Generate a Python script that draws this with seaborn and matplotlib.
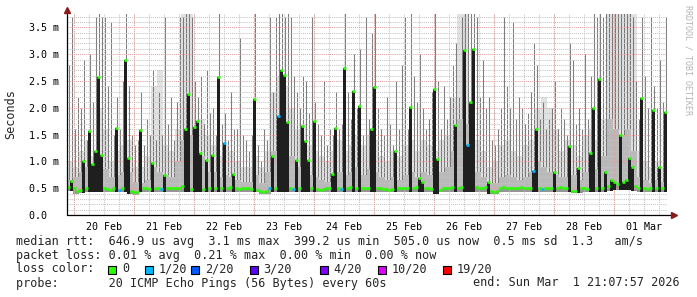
import numpy as np
import pandas as pd
import matplotlib
matplotlib.use("Agg")
import matplotlib.pyplot as plt
import matplotlib.dates as mdates
from matplotlib.ticker import MultipleLocator, FixedLocator, FixedFormatter
from matplotlib.patches import Rectangle
import seaborn as sns

# ---------------- data (milliseconds) ----------------
start_time = "2026-02-19 21:07:57"
step_minutes = 72

median_ms = [
    0.52, 0.63, 0.50, 0.45, 0.47, 1.00, 0.50, 1.57, 0.95, 1.20, 2.58, 1.12, 0.50, 0.49, 0.47, 0.50, 1.62, 0.47, 0.50, 2.90,
    1.07, 0.44, 0.42, 0.43, 1.58, 0.50, 0.50, 0.49, 0.97, 0.50, 0.50, 0.48, 0.75, 0.50, 0.50, 0.50, 0.50, 0.50, 0.55, 1.60,
    2.25, 0.48, 1.65, 1.75, 1.16, 0.48, 1.03, 0.50, 1.12, 0.50, 2.58, 0.50, 1.35, 0.50, 0.52, 0.76, 0.50, 0.48, 0.50, 0.50,
    0.50, 0.48, 2.17, 0.47, 0.44, 0.43, 0.45, 0.50, 1.10, 0.50, 1.84, 2.70, 2.62, 1.73, 0.50, 0.48, 1.03, 0.50, 1.66, 1.38,
    1.02, 0.50, 1.76, 0.48, 0.47, 0.49, 0.50, 0.50, 0.77, 1.63, 0.50, 0.48, 2.74, 0.50, 0.52, 2.32, 0.50, 2.04, 0.50, 0.50,
    0.50, 1.60, 2.38, 0.50, 0.50, 0.49, 0.48, 0.47, 0.48, 1.20, 0.50, 0.51, 0.50, 0.50, 2.01, 0.50, 0.52, 0.69, 0.62, 0.50,
    0.50, 0.48, 2.36, 1.05, 0.47, 0.50, 0.50, 0.50, 0.52, 1.68, 0.50, 0.52, 3.07, 1.30, 2.10, 3.10, 0.52, 0.50, 0.50, 0.52,
    0.62, 0.44, 0.42, 0.44, 0.50, 0.52, 0.50, 0.50, 0.51, 0.50, 0.50, 0.52, 0.50, 0.50, 0.50, 0.83, 1.60, 0.50, 0.49, 0.50,
    0.50, 0.50, 0.80, 0.50, 0.52, 0.50, 0.50, 1.29, 0.45, 0.44, 0.88, 0.50, 0.50, 0.48, 1.16, 1.99, 0.50, 2.54, 0.50, 0.80,
    0.55, 0.66, 0.62, 0.58, 1.50, 0.62, 0.65, 1.06, 0.90, 0.55, 0.50, 2.19, 0.50, 0.49, 0.50, 1.95, 0.50, 0.90, 0.50, 1.92,
]

peak_ms = [
    2.8, 3.7, 1.6, 2.2, 2.0, 2.9, 1.4, 3.0, 2.1, 3.7, 3.8, 3.7, 3.7, 2.4, 3.6, 1.5, 2.2, 1.6, 2.5, 3.8,
    2.4, 1.5, 1.3, 1.4, 2.3, 1.3, 1.8, 1.5, 2.7, 1.4, 2.3, 1.5, 3.7, 1.7, 2.2, 1.4, 2.1, 3.7, 3.7, 3.8,
    3.8, 3.7, 2.5, 2.2, 2.6, 1.7, 2.7, 1.9, 2.0, 1.5, 3.8, 1.7, 1.9, 1.4, 2.3, 1.6, 1.6, 3.3, 1.5, 1.4,
    1.2, 1.5, 3.8, 1.3, 1.0, 1.6, 1.4, 3.7, 2.3, 3.7, 3.8, 3.8, 3.7, 3.8, 3.7, 2.6, 2.3, 2.0, 2.6, 2.5,
    1.9, 3.7, 2.1, 1.7, 1.5, 2.5, 1.3, 1.6, 1.5, 2.3, 1.6, 1.7, 3.8, 2.3, 1.8, 3.0, 2.0, 3.1, 1.5, 3.7,
    1.8, 3.4, 3.8, 2.0, 1.6, 1.5, 2.2, 1.7, 1.3, 2.5, 1.6, 2.8, 3.7, 1.6, 3.8, 2.6, 2.1, 3.0, 2.0, 1.6,
    1.8, 2.3, 3.8, 2.5, 1.6, 2.4, 1.8, 2.2, 2.8, 3.2, 2.2, 3.7, 3.8, 3.8, 3.8, 3.8, 3.7, 2.2, 2.9, 2.0,
    2.2, 1.4, 1.3, 1.6, 2.0, 3.7, 2.4, 2.0, 3.6, 1.8, 2.2, 2.0, 1.7, 1.9, 2.3, 3.2, 2.8, 1.8, 2.1, 1.6,
    1.8, 2.0, 2.5, 1.6, 2.0, 1.8, 1.5, 3.2, 2.9, 1.7, 2.0, 1.6, 3.0, 1.8, 2.6, 3.8, 3.7, 3.8, 3.7, 3.8,
    3.8, 3.8, 3.8, 3.8, 3.8, 3.8, 3.8, 3.8, 3.7, 2.5, 1.8, 3.7, 2.6, 2.0, 3.7, 2.4, 2.0, 2.9, 2.1, 3.7,
]

# smoke envelope, one value per two median steps
smoke_lo_ms = [
    0.44, 0.40, 0.41, 0.43, 0.43, 0.43, 0.43, 0.42, 0.43, 0.43,
    0.39, 0.38, 0.42, 0.43, 0.43, 0.43, 0.43, 0.43, 0.43, 0.43,
    0.43, 0.43, 0.43, 0.43, 0.43, 0.43, 0.42, 0.43, 0.43, 0.43,
    0.43, 0.42, 0.39, 0.40, 0.42, 0.43, 0.43, 0.42, 0.43, 0.43,
    0.43, 0.43, 0.42, 0.43, 0.43, 0.43, 0.42, 0.43, 0.43, 0.43,
    0.43, 0.43, 0.43, 0.42, 0.43, 0.43, 0.43, 0.43, 0.43, 0.43,
    0.42, 0.40, 0.43, 0.43, 0.43, 0.43, 0.43, 0.43, 0.43, 0.43,
    0.40, 0.39, 0.42, 0.43, 0.43, 0.43, 0.43, 0.43, 0.43, 0.43,
    0.43, 0.43, 0.43, 0.43, 0.41, 0.41, 0.43, 0.42, 0.43, 0.43,
    0.44, 0.46, 0.47, 0.46, 0.44, 0.43, 0.43, 0.43, 0.43, 0.43,
]
smoke_mid_ms = [
    0.65, 0.70, 0.80, 0.90, 0.75, 1.00, 0.85, 0.70, 0.75, 0.80,
    0.80, 0.62, 0.60, 0.65, 0.90, 0.80, 0.75, 0.70, 1.00, 1.40,
    1.50, 1.00, 1.10, 0.80, 0.80, 0.70, 0.75, 0.70, 0.65, 0.62,
    0.62, 0.75, 0.60, 0.80, 1.20, 1.60, 1.40, 1.10, 0.90, 1.00,
    0.75, 0.70, 0.65, 0.62, 0.70, 0.80, 0.75, 0.80, 0.90, 0.75,
    0.85, 0.80, 0.70, 0.65, 0.70, 0.65, 0.75, 0.80, 0.70, 0.80,
    0.75, 0.70, 0.80, 0.90, 1.20, 1.80, 1.70, 1.00, 0.80, 0.70,
    0.60, 0.60, 0.70, 0.75, 0.70, 0.65, 0.70, 0.80, 1.00, 0.90,
    0.80, 0.75, 0.70, 0.70, 0.75, 0.65, 0.80, 0.90, 0.85, 1.10,
    1.80, 1.60, 1.50, 1.60, 1.20, 0.70, 0.65, 0.60, 0.65, 0.62,
]
smoke_hi_ms = [
    1.00, 0.90, 1.20, 1.40, 1.10, 2.00, 1.60, 1.00, 1.20, 1.30,
    1.40, 0.90, 0.90, 1.10, 2.40, 2.70, 1.30, 1.20, 1.60, 3.75,
    3.75, 1.60, 1.80, 1.50, 1.30, 1.10, 1.30, 1.20, 1.00, 0.90,
    0.90, 1.10, 0.90, 1.20, 2.30, 2.60, 2.40, 2.00, 1.60, 1.70,
    1.30, 1.20, 1.10, 1.00, 1.20, 1.40, 1.20, 1.30, 1.50, 1.30,
    1.50, 1.40, 1.10, 1.00, 1.20, 1.10, 1.30, 1.40, 1.20, 1.40,
    1.30, 1.20, 1.40, 1.50, 2.20, 3.75, 3.75, 2.00, 1.40, 1.20,
    0.90, 1.00, 1.30, 1.40, 1.20, 1.10, 1.30, 1.40, 2.00, 2.20,
    2.00, 1.60, 1.20, 1.40, 1.30, 1.10, 1.50, 1.60, 1.40, 1.80,
    3.75, 3.75, 3.75, 3.75, 3.75, 1.20, 1.00, 0.90, 1.00, 0.90,
]

# steps with packet loss (index into median_ms) and lost pings out of 20
loss_steps = [17, 31, 52, 67, 70, 75, 91, 133, 155, 158]
loss_counts = [1, 1, 1, 1, 1, 1, 1, 1, 1, 1]

legend_labels = ["0", "1/20", "2/20", "3/20", "4/20", "10/20", "19/20"]
legend_counts = [0, 1, 2, 3, 4, 10, 19]
legend_colors = ["#26ff00", "#00b8ff", "#0059ff", "#5e00ff", "#7e00ff", "#dd00ff", "#ff0000"]

y_ticks = [0.0, 0.5, 1.0, 1.5, 2.0, 2.5, 3.0, 3.5]
y_tick_labels = ["0.0  ", "0.5 m", "1.0 m", "1.5 m", "2.0 m", "2.5 m", "3.0 m", "3.5 m"]

stats_lines = [
    "median rtt:  646.9 us avg  3.1 ms max  399.2 us min  505.0 us now  0.5 ms sd  1.3   am/s",
    "packet loss: 0.01 % avg  0.21 % max  0.00 % min  0.00 % now",
]
probe_text = "probe:       20 ICMP Echo Pings (56 Bytes) every 60s"
end_text = "end: Sun Mar  1 21:07:57 2026"

# ---------------- drawing ----------------
sns.set_theme(style="white")
plt.rcParams["font.family"] = ["DejaVu Sans Mono", "DejaVu Sans"]

W, H = 697, 297
fig = plt.figure(figsize=(W / 100, H / 100), dpi=100)
fig.patch.set_facecolor("white")
ax = fig.add_axes([67 / W, 82 / H, 600 / W, 201 / H])
ax.set_facecolor("white")

N = len(median_ms)
edges = pd.date_range(start_time, periods=N + 1, freq=f"{step_minutes}min")
xe = mdates.date2num(edges)
xc = (xe[:-1] + xe[1:]) / 2
med = np.array(median_ms)
peak = np.array(peak_ms)
lo = np.repeat(np.array(smoke_lo_ms), 2)
mid = np.repeat(np.array(smoke_mid_ms), 2)
hi = np.repeat(np.array(smoke_hi_ms), 2)


def stepv(a):
    return np.append(a, a[-1])


# light haze of the upper pings
ax.fill_between(xe, stepv(lo), stepv(hi), step="post", color="#e2e2e2", lw=0, zorder=1.0)
# individual max-ping streaks
ax.vlines(xc, med, peak, color="#666666", lw=0.75, alpha=0.85, zorder=1.2)
# denser smoke near the median
ax.fill_between(xe, stepv(lo), stepv(mid), step="post", color="#b9b9b9", lw=0, zorder=1.4)
ax.fill_between(xe, stepv(lo), stepv(med), step="post", color="#959595", lw=0, zorder=1.6)

# dark columns where median jumps
spike = med > 0.6
ax.bar(xe[:-1][spike], (med - lo)[spike], bottom=lo[spike], width=np.diff(xe)[spike],
       align="edge", color="#1f1f1f", lw=0, zorder=3)

# median marks coloured by loss
cmap = dict(zip(legend_counts, legend_colors))
loss = np.zeros(N, dtype=int)
loss[loss_steps] = loss_counts
cols = [cmap[c] for c in loss]
ax.hlines(med, xe[:-1], xe[1:], colors=cols, lw=1.9, zorder=5)

# axes limits & grid
ax.set_xlim(xe[0], xe[-1])
ax.set_ylim(0, 3.75)
ax.yaxis.set_major_locator(FixedLocator(y_ticks))
ax.yaxis.set_major_formatter(FixedFormatter(y_tick_labels))
ax.yaxis.set_minor_locator(MultipleLocator(0.1))
ax.xaxis.set_major_locator(mdates.HourLocator(byhour=[12]))
ax.xaxis.set_major_formatter(mdates.DateFormatter("%d %b"))
ax.xaxis.set_minor_locator(mdates.HourLocator(byhour=[0, 6, 18]))

ax.set_axisbelow(False)
grey = "#c4c4c4"
red = "#e0a0a0"
dot = (0, (1, 1))
ax.grid(which="minor", axis="both", color=grey, ls=dot, lw=0.75, zorder=2.5)
ax.grid(which="major", axis="x", color=grey, ls=dot, lw=0.75, zorder=2.5)
ax.grid(which="major", axis="y", color=red, ls=dot, lw=0.75, zorder=2.5)
midnights = pd.date_range("2026-02-20", "2026-03-01", freq="D")
for d in mdates.date2num(midnights):
    ax.axvline(d, color=red, ls=dot, lw=0.75, zorder=2.6)

for s in ax.spines.values():
    s.set_visible(False)
ax.tick_params(axis="both", which="both", direction="out", length=2, width=0.6, color="#888888")
ax.tick_params(axis="y", which="major", labelsize=7.2, pad=3, colors="black", color="#cc8888", length=3)
ax.tick_params(axis="x", which="major", labelsize=7.2, pad=3, colors="black", color="#888888", length=2)

# axis lines with arrows
ax.plot([0, 0], [0, 1.0], transform=ax.transAxes, color="black", lw=0.9, clip_on=False, zorder=6)
ax.plot([0, 1.008], [0, 0], transform=ax.transAxes, color="black", lw=0.9, clip_on=False, zorder=6)
ax.plot([0], [1.02], marker="^", ms=4.5, color="#8b1a1a", transform=ax.transAxes, clip_on=False, zorder=7)
ax.plot([1.012], [0], marker=">", ms=4.5, color="#8b1a1a", transform=ax.transAxes, clip_on=False, zorder=7)

# texts
fig.text(11 / W, 1 - 114 / H, "Seconds", rotation=90, ha="center", va="center", fontsize=8.5)
fig.text(688 / W, 1 - 60 / H, "RRDTOOL / TOBI OETIKER", rotation=-90, ha="center", va="center",
         fontsize=6, color="#b4b4b4")

fs = 8.5
fig.text(16 / W, 1 - 241 / H, stats_lines[0], ha="left", va="center", fontsize=fs)
fig.text(16 / W, 1 - 255 / H, stats_lines[1], ha="left", va="center", fontsize=fs)
fig.text(16 / W, 1 - 269 / H, "loss color:", ha="left", va="center", fontsize=fs)
sq_x = [108, 145, 191, 250, 320, 378, 443]
lab_x = [122, 159, 205, 263, 333, 392, 457]
for sx, lx, lab, col in zip(sq_x, lab_x, legend_labels, legend_colors):
    fig.add_artist(Rectangle((sx / W, 1 - 273.5 / H), 8 / W, 8 / H, transform=fig.transFigure,
                             facecolor=col, edgecolor="black", lw=0.8))
    fig.text(lx / W, 1 - 269 / H, lab, ha="left", va="center", fontsize=fs)
fig.text(16 / W, 1 - 283 / H, probe_text, ha="left", va="center", fontsize=fs)
fig.text(680 / W, 1 - 283 / H, end_text, ha="right", va="center", fontsize=fs)

fig.savefig("out.png", dpi=100, facecolor="white")
